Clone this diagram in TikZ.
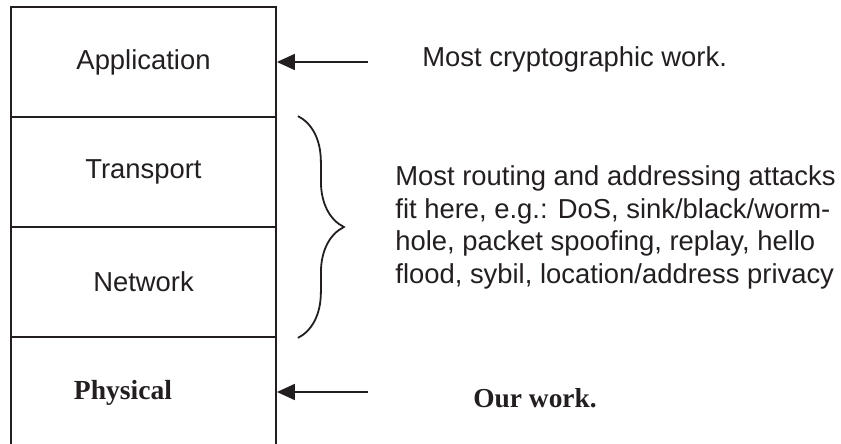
\documentclass[tikz,border=0pt]{standalone}
\usepackage{fontspec}
\setmainfont{Liberation Sans}
\newfontfamily\timesfont{Liberation Serif}
\usepackage{tikz}
\usetikzlibrary{arrows.meta}
\usetikzlibrary{decorations.pathreplacing}
\definecolor{ink}{HTML}{231f20}

\tikzset{
    layer/.style={draw, rectangle, line width=0.9pt, minimum width=132.5pt, minimum height=55pt, inner sep=0pt},
    note/.style={inner sep=0pt, align=left}
}

\begin{document}
\begin{tikzpicture}[x=0.5pt, y=-0.5pt, font=\fontsize{13.7}{16.3}\selectfont, color=ink,
        >={Triangle[length=9pt,width=8pt]}, every edge/.style={draw=ink,line width=0.9pt}]
        \useasboundingbox (0,0) rectangle (841,444);

        \node[layer] (app) at (143.5, 62) {Application};

        \node[layer] (tr) at (143.5, 172) {Transport};

        \node[layer] (net) at (143.5, 282) {Network};

        \node[layer] (phys) at (143.5, 392) {};
        \node[inner sep=0pt, font=\fontsize{13.8}{16}\timesfont\bfseries] (physlbl) at (123, 393) {Physical};

        \node[note, anchor=base west] (crypto) at (422, 67) {Most cryptographic work.};

        \node[note, anchor=north west] (attacks) at (395, 165.5) {Most routing and addressing attacks\\fit here, e.g.: DoS, sink/black/worm-\\hole, packet spoofing, replay, hello\\flood, sybil, location/address privacy};

        \node[note, anchor=base west, font=\fontsize{13.7}{16}\timesfont\bfseries] (ours) at (473, 407) {Our work.};

        \coordinate (appsrc) at (368, 62);
        \coordinate (physsrc) at (368, 392);
        \coordinate (btop) at ([xshift=10.5pt]tr.north east);
        \coordinate (bbot) at ([xshift=10.5pt]net.south east);

        \path [->](appsrc) edge (app.east);
        \path [->](physsrc) edge (phys.east);

        \draw[line width=0.9pt, decorate, decoration={brace, amplitude=23pt}] (btop) -- (bbot);

    \end{tikzpicture}
\end{document}
